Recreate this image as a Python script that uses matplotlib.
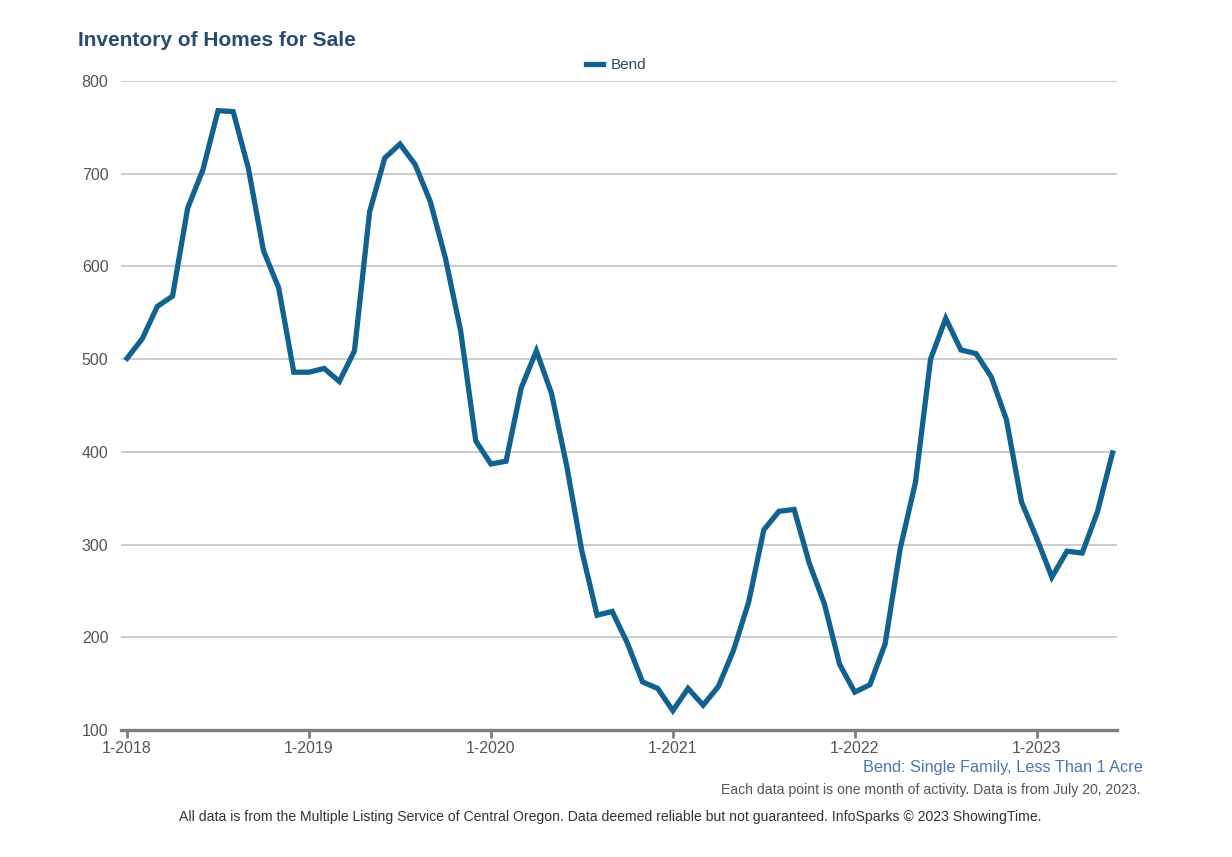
import numpy as np
import matplotlib.pyplot as plt

plt.rcParams['font.family'] = ['Liberation Sans', 'DejaVu Sans']

# monthly inventory, Jan 2018 .. Jun 2023
bend = [501, 522, 557, 568, 663, 704, 768, 767, 706, 617, 577, 486,
        486, 490, 476, 509, 659, 717, 732, 710, 670, 609, 531, 412,
        387, 390, 469, 509, 463, 385, 293, 224, 228, 194, 152, 145,
        121, 145, 127, 147, 186, 238, 316, 336, 338, 280, 236, 171,
        141, 149, 193, 296, 367, 500, 544, 510, 506, 481, 435, 346,
        307, 265, 293, 291, 335, 399]
years = [2018, 2019, 2020, 2021, 2022, 2023]
tick_labels = ["1-%d" % y for y in years]
yticks = [100, 200, 300, 400, 500, 600, 700, 800]

LINE = "#11628f"
GRID = "#bfbfbf"
TXT = "#555555"

fig = plt.figure(figsize=(12.32, 8.57), dpi=100)
ax = fig.add_axes([0.0982, 0.148, 0.8085, 0.7575])

x = np.arange(len(bend))
ax.plot(x, bend, color=LINE, lw=3.8, solid_joinstyle="miter", label="Bend", zorder=3)

ax.set_xlim(-0.4, 65.3)
ax.set_ylim(100, 800)
ax.set_yticks(yticks)
ax.set_yticklabels([str(v) for v in yticks])
ax.set_xticks([12 * i for i in range(len(years))])
ax.set_xticklabels(tick_labels)

for v in yticks[1:]:
    ax.axhline(v, color=GRID, lw=1.1, zorder=1)

for s in ["top", "right", "left"]:
    ax.spines[s].set_visible(False)
ax.spines["bottom"].set_color("#7f7f7f")
ax.spines["bottom"].set_linewidth(2.4)

ax.tick_params(axis="y", length=0, pad=9, labelsize=11.5, labelcolor=TXT)
ax.tick_params(axis="x", length=6, width=2, color="#7f7f7f", pad=2,
               labelsize=11.5, labelcolor=TXT)

fig.text(0.063, 0.953, "Inventory of Homes for Sale", fontsize=15,
         fontweight="bold", color="#2a4b70", va="center", ha="left")

leg = ax.legend(loc="lower center", bbox_to_anchor=(0.497, 1.004), frameon=False,
                fontsize=11, handlelength=1.1, handletextpad=0.5,
                borderaxespad=0.0)
for t in leg.get_texts():
    t.set_color("#2a4b70")

fig.text(0.928, 0.104, "Bend: Single Family, Less Than 1 Acre", fontsize=11.7,
         color="#4a78ad", ha="right", va="center")
fig.text(0.926, 0.078, "Each data point is one month of activity. Data is from July 20, 2023.",
         fontsize=10.1, color=TXT, ha="right", va="center")
fig.text(0.495, 0.047,
         "All data is from the Multiple Listing Service of Central Oregon. Data deemed reliable but not guaranteed. InfoSparks \u00a9 2023 ShowingTime.",
         fontsize=10.1, color="#333333", ha="center", va="center")

fig.savefig("out.png", dpi=100)
